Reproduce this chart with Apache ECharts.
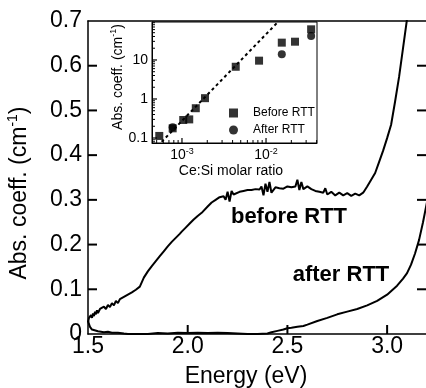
<!DOCTYPE html>
<html><head><meta charset="utf-8">
<script src="https://cdn.jsdelivr.net/npm/echarts@6/dist/echarts.min.js"></script>
<style>html,body{margin:0;padding:0;background:#fff}#c{width:426px;height:388px}</style>
</head><body><div id="c"></div>
<script>
// Main spectrum: before RTT
const energyBefore = [1.50,1.505,1.51,1.515,1.52,1.525,1.53,1.535,1.54,1.545,1.55,1.56,1.57,1.58,1.59,1.60,1.61,1.62,1.63,1.64,1.65,1.66,1.67,1.68,1.69,1.70,1.71,1.72,1.73,1.74,1.75,1.76,1.77,1.78,1.79,1.80,1.81,1.82,1.83,1.84,1.85,1.86,1.87,1.88,1.89,1.90,1.91,1.92,1.93,1.94,1.95,1.96,1.97,1.98,1.99,2.00,2.01,2.02,2.03,2.04,2.05,2.06,2.07,2.08,2.10,2.12,2.14,2.16,2.18,2.19,2.20,2.21,2.22,2.23,2.24,2.26,2.28,2.30,2.32,2.34,2.36,2.37,2.38,2.39,2.40,2.41,2.42,2.44,2.46,2.48,2.50,2.52,2.54,2.55,2.56,2.57,2.58,2.60,2.62,2.64,2.66,2.68,2.69,2.70,2.72,2.74,2.76,2.78,2.80,2.82,2.84,2.86,2.88,2.90,2.92,2.94,2.96,2.98,3.00,3.02,3.04,3.06,3.08,3.10,3.12];
const absBefore = [0.026,0.036,0.032,0.042,0.036,0.046,0.040,0.050,0.044,0.053,0.047,0.056,0.052,0.061,0.056,0.065,0.060,0.069,0.064,0.074,0.069,0.078,0.074,0.083,0.079,0.088,0.084,0.093,0.090,0.099,0.097,0.106,0.110,0.126,0.130,0.140,0.143,0.152,0.155,0.163,0.166,0.174,0.178,0.185,0.188,0.196,0.199,0.206,0.209,0.215,0.219,0.224,0.229,0.233,0.238,0.242,0.247,0.251,0.256,0.259,0.264,0.267,0.271,0.274,0.285,0.294,0.300,0.306,0.308,0.300,0.318,0.296,0.320,0.312,0.316,0.318,0.320,0.322,0.322,0.324,0.323,0.330,0.310,0.336,0.318,0.340,0.316,0.328,0.326,0.325,0.330,0.328,0.330,0.345,0.322,0.340,0.324,0.330,0.324,0.320,0.318,0.316,0.326,0.312,0.318,0.310,0.316,0.310,0.315,0.309,0.314,0.310,0.316,0.330,0.345,0.360,0.385,0.410,0.438,0.468,0.520,0.575,0.640,0.705,0.760];
// Main spectrum: after RTT
const energyAfter = [1.50,1.505,1.51,1.52,1.53,1.55,1.58,1.60,1.62,1.65,1.68,1.70,1.80,1.85,1.90,1.95,2.00,2.05,2.10,2.15,2.20,2.25,2.30,2.35,2.40,2.42,2.45,2.48,2.50,2.52,2.55,2.58,2.60,2.65,2.70,2.75,2.80,2.85,2.90,2.95,3.00,3.05,3.08,3.10,3.12,3.14,3.16,3.18,3.20];
const absAfter = [0.030,0.022,0.016,0.010,0.008,0.006,0.004,0.005,0.003,0.003,0.001,0.000,0.000,0.002,0.001,0.003,0.002,0.003,0.002,0.003,0.002,0.001,0.000,0.000,0.001,0.004,0.007,0.010,0.013,0.014,0.016,0.018,0.021,0.029,0.036,0.044,0.050,0.056,0.064,0.074,0.088,0.108,0.124,0.136,0.155,0.180,0.210,0.250,0.295];
// Inset: coefficient vs Ce:Si molar ratio
const ratioBefore = [5.37e-4,7.75e-4,1.035e-3,1.22e-3,1.46e-3,1.88e-3,4.36e-3,8.26e-3,0.0154,0.0221,0.0344];
const coeffBefore = [0.113,0.177,0.29,0.30,0.58,1.05,6.7,9.6,27.8,29.4,61];
const ratioAfter = [7.75e-4,0.0154,0.0344];
const coeffAfter = [0.19,14,41];
const fitRatio = [5.73e-4,0.0134];
const fitCoeff = [0.080,87.3];
// Tick values
const mainXTicks = [2.0,2.5,3.0];
const mainYTicks = [0.1,0.2,0.3,0.4,0.5,0.6];
const insetXMajor = [1e-3,1e-2];
const insetXMinor = [5e-4,6e-4,7e-4,8e-4,9e-4,2e-3,3e-3,4e-3,5e-3,6e-3,7e-3,8e-3,9e-3,2e-2,3e-2,4e-2];
const insetYMajor = [0.1,1,10];
const insetYMinor = [0.08,0.09,0.2,0.3,0.4,0.5,0.6,0.7,0.8,0.9,2,3,4,5,6,7,8,9,20,30,40,50,60,70,80,90];

const X0 = 1.5, X1 = 3.2, Y0 = 0, Y1 = 0.7;
const IX0 = 4.4e-4, IX1 = 0.0404, IY0 = 0.0745, IY1 = 94;

const zip = (a,b) => a.map((v,i)=>[v,b[i]]);
const FF = '"Liberation Sans", Arial, sans-serif';
const black = '#000';
const chart = echarts.init(document.getElementById('c'), null, {renderer:'canvas'});
const supRich = (fs) => ({ s: { fontSize: fs, fontFamily: FF, color: black, padding: [0,0,Math.round(fs*0.9),0] } });
const isPow10 = v => Math.abs(Math.log10(v) - Math.round(Math.log10(v))) < 1e-6;

// inward tick marks, placed through the axes' own scales: [x, y, dx, dy, width]
const mainTicks = [].concat(
  mainYTicks.map(v => [X0, v, 9, 0, 2]),
  mainYTicks.map(v => [X1, v, -10, 0, 2]),
  mainXTicks.map(v => [v, Y0, 0, -9, 2])
);
const insetTicks = [].concat(
  insetXMajor.map(v => [v, IY0, 0, -5, 1.2]),
  insetXMinor.map(v => [v, IY0, 0, -3, 1]),
  insetYMajor.map(v => [IX0, v, 5, 0, 1.2]),
  insetYMinor.map(v => [IX0, v, 3, 0, 1])
);
const tickRender = (params, api) => {
  const p = api.coord([api.value(0), api.value(1)]);
  return { type: 'line', shape: { x1: p[0], y1: p[1], x2: p[0] + api.value(2), y2: p[1] + api.value(3) },
    style: { stroke: black, lineWidth: api.value(4) } };
};

const option = {
  animation: false,
  backgroundColor: '#fff',
  textStyle: { fontFamily: FF, color: black },
  grid: [
    { left: 88, top: 21, width: 339, height: 313, outerBoundsMode: 'none', containLabel: false },
    { left: 152, top: 22, width: 165, height: 121, show: true, backgroundColor: '#fff', borderColor: black, borderWidth: 1, outerBoundsMode: 'none', containLabel: false, z: 5 }
  ],
  legend: {
    orient: 'vertical', left: 224, top: 102, itemWidth: 9, itemHeight: 9, itemGap: 5,
    textStyle: { fontSize: 12, fontFamily: FF, color: black, padding: [0,0,0,10] },
    data: [{ name: 'Before RTT', icon: 'rect' }, { name: 'After RTT', icon: 'circle' }],
    z: 10
  },
  xAxis: [
    { type: 'value', gridIndex: 0, position: 'bottom', min: X0, max: X1, interval: 0.5,
      axisLine: { show: true, lineStyle: { color: black, width: 1.5 } },
      axisTick: { show: false },
      axisLabel: { fontSize: 23, color: black, fontFamily: FF, margin: 1, showMaxLabel: false,
        formatter: v => (Math.abs(v-X1)<1e-6 ? '' : v.toFixed(1)) },
      splitLine: { show: false } },
    { type: 'value', gridIndex: 0, position: 'top', min: X0, max: X1, interval: 0.5,
      axisLine: { show: true, lineStyle: { color: black, width: 1.5 } },
      axisTick: { show: false }, axisLabel: { show: false }, splitLine: { show: false } },
    { type: 'log', gridIndex: 1, position: 'bottom', min: IX0, max: IX1, logBase: 10,
      axisLine: { show: true, onZero: false, lineStyle: { color: black, width: 1 } },
      axisTick: { show: false },
      axisLabel: { show: true, fontSize: 14, color: black, fontFamily: FF, margin: 4, showMinLabel: false, showMaxLabel: false,
        formatter: v => isPow10(v) ? '10{s|' + Math.round(Math.log10(v)) + '}' : '', rich: supRich(9) },
      splitLine: { show: false }, z: 6 }
  ],
  yAxis: [
    { type: 'value', gridIndex: 0, position: 'left', min: Y0, max: Y1, interval: 0.1,
      axisLine: { show: true, lineStyle: { color: black, width: 1.5 } },
      axisTick: { show: false },
      axisLabel: { fontSize: 23, color: black, fontFamily: FF, margin: 6,
        formatter: v => (v === 0 ? '0' : v.toFixed(1)) },
      splitLine: { show: false } },
    { type: 'log', gridIndex: 1, position: 'left', min: IY0, max: IY1, logBase: 10,
      axisLine: { show: true, onZero: false, lineStyle: { color: black, width: 1 } },
      axisTick: { show: false },
      axisLabel: { show: true, fontSize: 14, color: black, fontFamily: FF, margin: 4, showMinLabel: false, showMaxLabel: false,
        formatter: v => isPow10(v) ? String(Math.round(v*10)/10) : '' },
      splitLine: { show: false }, z: 6 }
  ],
  series: [
    { name: 'before RTT curve', type: 'line', xAxisIndex: 0, yAxisIndex: 0, data: zip(energyBefore, absBefore),
      symbol: 'none', lineStyle: { color: black, width: 2 }, clip: true, z: 3 },
    { name: 'after RTT curve', type: 'line', xAxisIndex: 0, yAxisIndex: 0, data: zip(energyAfter, absAfter),
      symbol: 'none', lineStyle: { color: black, width: 2 }, clip: true, z: 3 },
    { name: 'main ticks', type: 'custom', xAxisIndex: 0, yAxisIndex: 0, data: mainTicks, renderItem: tickRender, clip: false, silent: true, z: 4 },
    { name: 'inset ticks', type: 'custom', xAxisIndex: 2, yAxisIndex: 1, data: insetTicks, renderItem: tickRender, clip: false, silent: true, z: 9 },
    { name: 'fit', type: 'line', xAxisIndex: 2, yAxisIndex: 1, data: zip(fitRatio, fitCoeff),
      symbol: 'none', lineStyle: { color: black, width: 2, type: [3,3] }, z: 7 },
    { name: 'Before RTT', type: 'scatter', xAxisIndex: 2, yAxisIndex: 1, data: zip(ratioBefore, coeffBefore),
      symbol: 'rect', symbolSize: 8, itemStyle: { color: black }, z: 8 },
    { name: 'After RTT', type: 'scatter', xAxisIndex: 2, yAxisIndex: 1, data: zip(ratioAfter, coeffAfter),
      symbol: 'circle', symbolSize: 8, itemStyle: { color: black }, z: 8 }
  ],
  graphic: [
    { type: 'text', x: 20, y: 193, rotation: Math.PI/2, z: 20,
      style: { text: 'Abs. coeff. (cm{s|-1})', font: '23px ' + FF, fill: black, align: 'center', verticalAlign: 'middle', rich: supRich(14) } },
    { type: 'text', x: 246, y: 377, z: 20,
      style: { text: 'Energy (eV)', font: '23px ' + FF, fill: black, align: 'center', verticalAlign: 'middle' } },
    { type: 'text', x: 118, y: 77, rotation: Math.PI/2, z: 20,
      style: { text: 'Abs. coeff. (cm{s|-1})', font: '14px ' + FF, fill: black, align: 'center', verticalAlign: 'middle', rich: supRich(9) } },
    { type: 'text', x: 231, y: 171, z: 20,
      style: { text: 'Ce:Si molar ratio', font: '14px ' + FF, fill: black, align: 'center', verticalAlign: 'middle' } },
    { type: 'text', x: 289, y: 217, z: 20,
      style: { text: 'before RTT', font: 'bold 22px ' + FF, fill: black, align: 'center', verticalAlign: 'middle' } },
    { type: 'text', x: 341, y: 275, z: 20,
      style: { text: 'after RTT', font: 'bold 22px ' + FF, fill: black, align: 'center', verticalAlign: 'middle' } }
  ]
};
chart.setOption(option);
</script></body></html>
